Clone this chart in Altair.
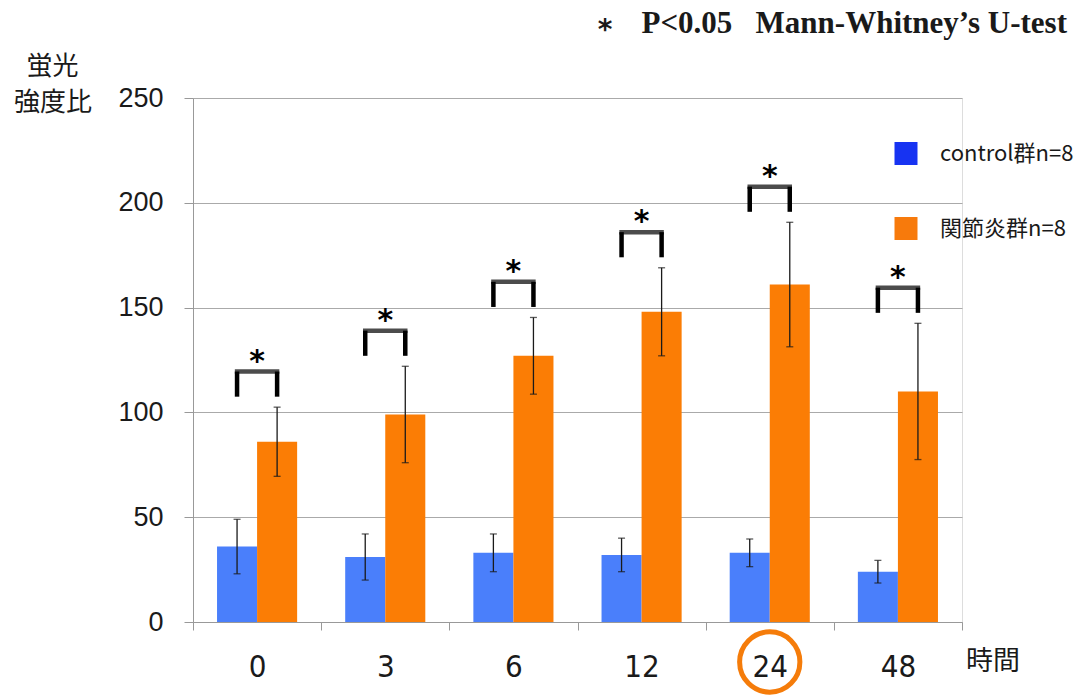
import altair as alt
import pandas as pd

# Time points (hours) and the two groups
hours = ["0", "3", "6", "12", "24", "48"]
groups = ["control群n=8", "関節炎群n=8"]

# Mean fluorescence intensity ratio and SD per time point
control_mean = [36, 31, 33, 32, 33, 24]
control_sd = [13, 11, 9, 8, 6.6, 5.4]
arthritis_mean = [86, 99, 127, 148, 161, 110]
arthritis_sd = [16.5, 23, 18.3, 21, 29.7, 32.5]

y_ticks = [0, 50, 100, 150, 200, 250]
highlight_hour = "24"

bar_colors = ["#4a7ffb", "#fb7d05"]
legend_colors = ["#1733f2", "#f77a0c"]

rows = []
for i, h in enumerate(hours):
    for g, m, s in ((groups[0], control_mean[i], control_sd[i]),
                    (groups[1], arthritis_mean[i], arthritis_sd[i])):
        rows.append({"hour": h, "group": g, "mean": m, "lo": m - s, "hi": m + s})
df = pd.DataFrame(rows)

# significance brackets sit a little above the taller error bar
tops = df.groupby("hour", sort=False)["hi"].max() + 17
br_rows = []
for h in hours:
    for g in groups:
        br_rows.append({"hour": h, "group": g, "top": tops[h], "bottom": tops[h] - 12})
brackets = pd.DataFrame(br_rows)
bracket_tops = pd.DataFrame({"hour": hours, "top": [tops[h] for h in hours]})

x_axis = alt.Axis(
    grid=False, tickBand="extent", tickSize=8, tickColor="#999999",
    domainColor="#999999", labelAngle=0, labelPadding=22,
    labelFont="Liberation Sans Narrow, DejaVu Sans Condensed, Liberation Sans",
    labelFontSize=31, labelColor="#1a1a1a", title=None,
)
y_axis = alt.Axis(
    values=y_ticks, grid=True, gridColor="#aaaaaa", gridWidth=1.2,
    tickSize=9, tickColor="#999999", domainColor="#999999",
    labelFont="Liberation Sans", labelFontSize=27, labelColor="#1a1a1a",
    labelPadding=21, title=None,
)

X = alt.X("hour:N", sort=hours,
          scale=alt.Scale(domain=hours, paddingInner=0, paddingOuter=0),
          axis=x_axis, title=None)
XO = alt.XOffset("group:N", sort=groups,
                 scale=alt.Scale(domain=groups, paddingInner=0, paddingOuter=0.6))
yscale = alt.Scale(domain=[0, 250], nice=False, zero=True)


def Y(field):
    return alt.Y(field, type="quantitative", scale=yscale, axis=y_axis, title=None)


bars = alt.Chart(df).mark_bar().encode(
    x=X, xOffset=XO, y=Y("mean"),
    color=alt.Color("group:N", sort=groups,
                    scale=alt.Scale(domain=groups, range=bar_colors), legend=None),
)

err = alt.Chart(df).mark_rule(color="#1a1a1a", strokeWidth=1.3).encode(
    x=X, xOffset=XO, y=Y("lo"), y2="hi:Q",
)
cap_hi = alt.Chart(df).mark_tick(color="#1a1a1a", orient="horizontal",
                                 size=7, thickness=1.3).encode(
    x=X, xOffset=XO, y=Y("hi"),
)
cap_lo = alt.Chart(df).mark_tick(color="#1a1a1a", orient="horizontal",
                                 size=7, thickness=1.3).encode(
    x=X, xOffset=XO, y=Y("lo"),
)

legs = alt.Chart(brackets).mark_rule(color="black", strokeWidth=4.5).encode(
    x=X, xOffset=XO, y=Y("bottom"), y2="top:Q",
)
bridge = alt.Chart(bracket_tops).mark_tick(color="black", orient="horizontal",
                                           size=44.5, thickness=4.5).encode(
    x=X, y=Y("top"),
)
stars = alt.Chart(bracket_tops).mark_text(
    text="*", font="DejaVu Sans", fontWeight="bold", fontSize=30,
    baseline="alphabetic", align="center", dy=-1, color="black",
).encode(x=X, y=Y("top"))

ring = alt.Chart(pd.DataFrame({"hour": [highlight_hour]})).mark_point(
    shape="circle", size=3632, filled=False, stroke="#f57c0a",
    strokeWidth=5, opacity=1,
).encode(x=X, y=alt.value(564))

one = alt.Data(values=[{}])


def label(text, x, y, size, font="Noto Sans CJK JP", align="center",
          baseline="middle", weight="normal", color="#1a1a1a"):
    return alt.Chart(one).mark_text(
        text=text, font=font, fontSize=size, align=align, baseline=baseline,
        fontWeight=weight, color=color,
    ).encode(x=alt.value(x), y=alt.value(y))


legend_layers = []
for i, (name, col) in enumerate(zip(groups, legend_colors)):
    yy = 55.5 + 75 * i
    legend_layers.append(
        alt.Chart(one).mark_square(size=529, color=col, opacity=1)
        .encode(x=alt.value(713), y=alt.value(yy))
    )
    legend_layers.append(label(name, 747, yy, 22, align="left"))

gap = "\u00a0\u00a0\u00a0"
texts = [
    label("蛍光", -140.5, -31, 26),
    label("強度比", -140, 5, 26),
    label("時間", 800, 564, 27),
    label("*", 412, -59, 28, font="DejaVu Sans", baseline="alphabetic",
          weight="bold"),
    label("P<0.05" + gap + "Mann-Whitney\u2019s U-test", 874, -65, 31,
          font="Liberation Serif", align="right", baseline="alphabetic",
          weight="bold"),
]

chart = alt.layer(
    bars, err, cap_hi, cap_lo, legs, bridge, stars, ring, *legend_layers, *texts
).properties(
    width=769, height=524,
    padding={"left": 193, "top": 98, "right": 122, "bottom": 78},
    autosize=alt.AutoSizeParams(type="none"),
).configure_view(stroke=None).configure(background="white")

chart.save("out.html", embed_options={"renderer": "svg", "actions": False})
